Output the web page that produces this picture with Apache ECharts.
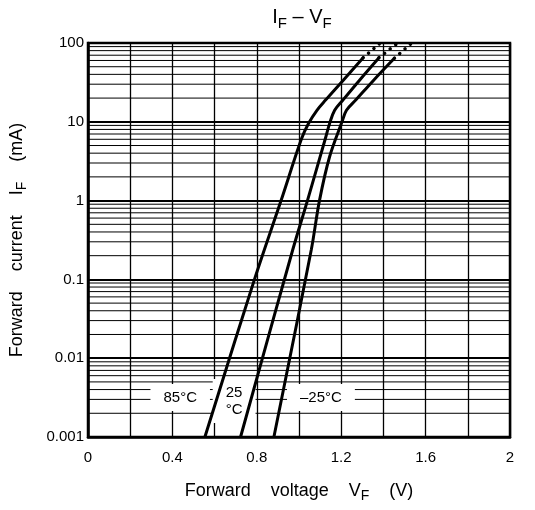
<!DOCTYPE html>
<html>
<head>
<meta charset="utf-8">
<script src="https://cdn.jsdelivr.net/npm/echarts@6/dist/echarts.min.js"></script>
<style>html,body{margin:0;padding:0;background:#fff}#c{width:535px;height:510px}</style>
</head>
<body>
<div id="c"></div>
<script>
// ---- data (V in volts, I in mA) ----
const curve85 = [[0.554,0.001],[0.789,0.1],[0.915,1],[1.011,6],[1.045,9.5],[1.085,14],[1.127,19],[1.211,34],[1.304,65]];
const curve85dots = [[1.304,65],[1.385,100]];
const curve25 = [[0.723,0.001],[0.97,0.236],[1.04,1],[1.124,6],[1.146,9.7],[1.169,14],[1.209,19],[1.288,34],[1.379,65]];
const curve25dots = [[1.379,65],[1.468,100]];
const curveM25 = [[0.881,0.001],[1.058,0.236],[1.097,1],[1.145,3.6],[1.202,9.7],[1.225,14],[1.27,19],[1.355,34],[1.452,64]];
const curveM25dots = [[1.452,64],[1.534,100]];
const tempLabelText = ['85°C','25\n°C','–25°C'];
const tempLabelAt = [[0.437,0.00317],[0.6925,0.00286],[1.104,0.00317]];
const xTickLabels = ['0','0.4','0.8','1.2','1.6','2'];
const yTickLabels = ['0.001','0.01','0.1','1','10','100'];
const decades = [0.001,0.01,0.1,1,10];
const minorSteps = [2,3,4,5,6,7,8,9];

const FONT = 'Liberation Sans, Arial, Helvetica, sans-serif';
const minorValues = [];
decades.forEach(d => minorSteps.forEach(m => minorValues.push(+(d*m).toPrecision(3))));

const curveStyle = {color:'#000', width:3};
function solid(data){return {type:'line', data, showSymbol:false, smooth:0.35, lineStyle:curveStyle, z:5, silent:true};}
function dots(data){return {type:'line', data, showSymbol:false, lineStyle:{color:'#000', width:3.5, type:[0.1,7], cap:'round'}, z:5, silent:true};}

const chart = echarts.init(document.getElementById('c'), null, {renderer:'canvas'});
chart.setOption({
  animation:false,
  backgroundColor:'#fff',
  title:{
    text:'{m|I}{s|F}{m| – V}{s|F}',
    left:297, top:-1, textAlign:'center',
    textStyle:{fontWeight:'normal',rich:{m:{fontSize:20,fontWeight:'normal',fontFamily:FONT,color:'#000'},s:{fontSize:15,fontWeight:'normal',fontFamily:FONT,color:'#000',padding:[12,0,0,0]}}}
  },
  grid:{left:84,right:25,top:43,bottom:73,show:true,borderColor:'#000',borderWidth:2.5,backgroundColor:'transparent'},
  xAxis:{
    type:'value',min:0,max:2,interval:0.2,
    name:'{m|Forward    voltage    V}{s|F}{m|    (V)}',
    nameLocation:'middle',nameGap:42,
    nameTextStyle:{rich:{m:{fontSize:18,fontFamily:FONT,color:'#000'},s:{fontSize:14,fontFamily:FONT,color:'#000',padding:[10,0,0,0]}}},
    axisLine:{show:true,lineStyle:{color:'#000',width:2.5}},
    axisTick:{show:false},
    axisLabel:{margin:13,fontSize:15,fontFamily:FONT,color:'#000',
      formatter:v=>{const k=Math.round(v*10);return k%4===0?xTickLabels[k/4]:'';}},
    splitLine:{show:true,lineStyle:{color:'#000',width:1.3}}
  },
  yAxis:{
    type:'log',logBase:10,min:0.001,max:100,
    name:'{m|Forward    current    I}{s|F}{m|    (mA)}',
    nameLocation:'middle',nameGap:59,nameRotate:90,
    nameTextStyle:{rich:{m:{fontSize:18,fontFamily:FONT,color:'#000'},s:{fontSize:14,fontFamily:FONT,color:'#000',padding:[10,0,0,0]}}},
    axisLine:{show:true,lineStyle:{color:'#000',width:2.5}},
    axisTick:{show:false},
    axisLabel:{margin:4,fontSize:15,fontFamily:FONT,color:'#000',
      formatter:v=>{const k=Math.round(Math.log10(v))+3;return yTickLabels[k]||'';}},
    splitLine:{show:true,lineStyle:{color:'#000',width:2}},
    minorTick:{show:false},minorSplitLine:{show:false}
  },
  series:[
    {type:'custom',z:1,silent:true,data:minorValues,
     renderItem:(params,api)=>{
       const v=api.value(0);
       const a=api.coord([0,v]), b=api.coord([2,v]);
       return {type:'line',shape:{x1:a[0],y1:a[1],x2:b[0],y2:b[1]},style:{stroke:'#000',lineWidth:1}};
     },
     encode:{y:0}},
    {type:'scatter',symbolSize:0,z:3,silent:true,
     itemStyle:{opacity:1},
     data:tempLabelAt.map((p,i)=>({value:p,name:tempLabelText[i]})),
     label:{show:true,position:'inside',opacity:1,formatter:p=>p.name,fontSize:15,fontFamily:FONT,color:'#000',
       backgroundColor:'#fff',lineHeight:17,padding:[5,13],align:'center',verticalAlign:'middle'}},
    solid(curve85),dots(curve85dots),
    solid(curve25),dots(curve25dots),
    solid(curveM25),dots(curveM25dots)
  ]
});
</script>
</body>
</html>
